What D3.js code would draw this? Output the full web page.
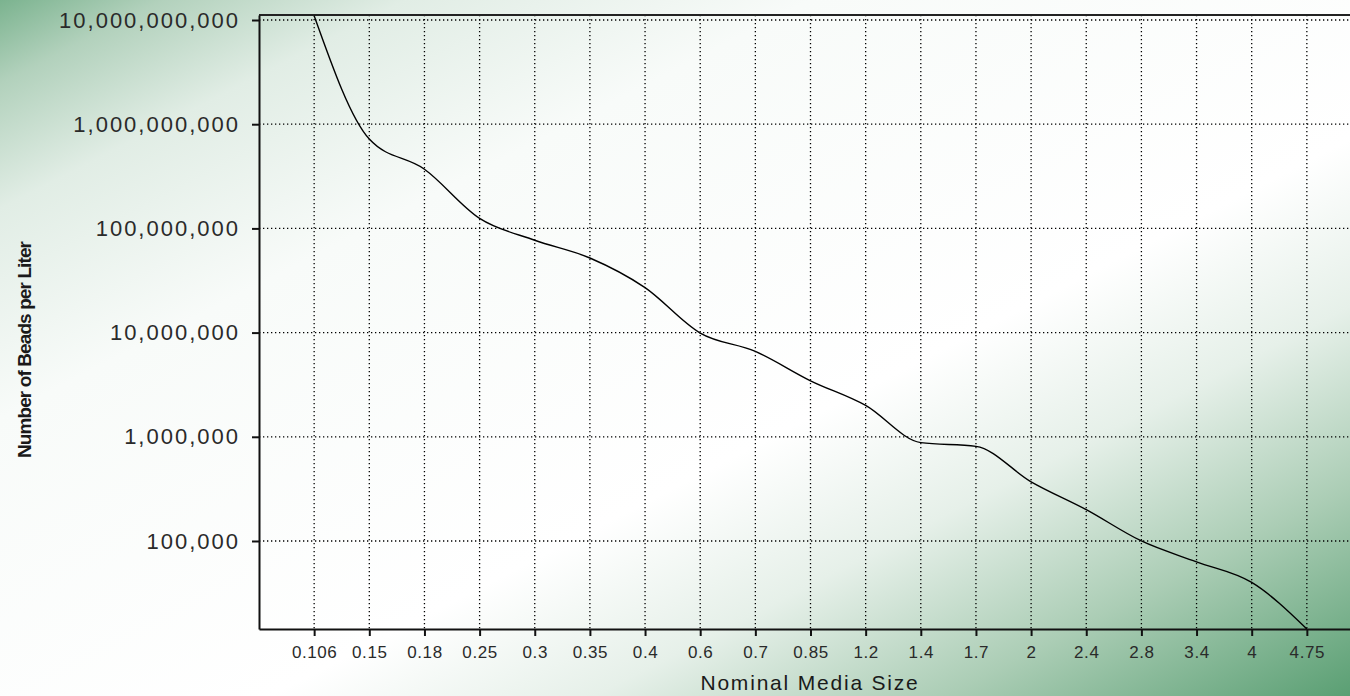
<!DOCTYPE html>
<html>
<head>
<meta charset="utf-8">
<script src="https://cdn.jsdelivr.net/npm/d3@7"></script>
<style>
    html, body { margin: 0; padding: 0; overflow: hidden; }
    #chart { width: 1350px; height: 696px; }
    .axisText { font-family: "Liberation Sans", Arial, sans-serif; fill: #1a1a1a; }
    .y-axis text { font-family: "Liberation Sans", Arial, sans-serif; font-size: 22px; letter-spacing: 2px; fill: #2a2a2a; }
    .x-axis text { font-family: "Liberation Sans", Arial, sans-serif; font-size: 17px; letter-spacing: 0.6px; fill: #2a2a2a; }
    .y-axis line, .x-axis line, .y-axis path, .x-axis path { stroke: #111; stroke-width: 2; }
    .grid { stroke: #000; stroke-width: 1.3; stroke-dasharray: 1.3 2.7; }
</style>
</head>
<body>
<div id="chart"></div>
<script>
// data
var mediaSizes = ["0.106", "0.15", "0.18", "0.25", "0.3", "0.35", "0.4", "0.6", "0.7", "0.85",
                  "1.2", "1.4", "1.7", "2", "2.4", "2.8", "3.4", "4", "4.75"];
var beadsPerLiter = [1.1e10, 7.2e8, 3.7e8, 1.25e8, 7.7e7, 5.2e7, 2.7e7, 9.9e6, 6.6e6, 3.45e6,
                     2.0e6, 8.8e5, 8.1e5, 3.7e5, 2.0e5, 1.0e5, 6.3e4, 4.0e4, 1.43e4];
var yTickValues = [1e5, 1e6, 1e7, 1e8, 1e9, 1e10];
var yRange = [14300, 1.117e10];

makePlot();

function makePlot() {

    var svgWidth = 1350;
    var svgHeight = 696;

    var plot = { left: 259, right: 1362, top: 15, bottom: 629 };

    var svg = d3.select("#chart")
        .append("svg")
        .attr("width", svgWidth)
        .attr("height", svgHeight);

    // background gradient: green corners, white band across the middle
    var defs = svg.append("defs");
    var grad = defs.append("linearGradient")
        .attr("id", "bg")
        .attr("gradientUnits", "userSpaceOnUse")
        .attr("x1", 0).attr("y1", 0)
        .attr("x2", 567).attr("y2", 1100);
    [[0, "#7bb38f"], [0.06, "#b2d1bc"], [0.15, "#e1ede5"], [0.3, "#f8fbf9"], [0.6, "#ffffff"],
     [0.72, "#e6f0e9"], [0.85, "#abcdb5"], [1, "#5a9f73"]].forEach(function(s) {
        grad.append("stop").attr("offset", s[0]).attr("stop-color", s[1]);
    });

    defs.append("clipPath").attr("id", "plotClip")
        .append("rect")
        .attr("x", plot.left).attr("y", plot.top)
        .attr("width", plot.right - plot.left).attr("height", plot.bottom - plot.top);

    svg.append("rect")
        .attr("width", svgWidth)
        .attr("height", svgHeight)
        .attr("fill", "url(#bg)");

    // scales
    var xScale = d3.scalePoint()
        .domain(mediaSizes)
        .range([plot.left, plot.right])
        .padding(1);

    var yScale = d3.scaleLog()
        .domain(yRange)
        .range([plot.bottom, plot.top]);

    // grid
    svg.append("g").selectAll("line")
        .data(mediaSizes)
        .enter()
        .append("line")
        .attr("class", "grid")
        .attr("x1", d => xScale(d)).attr("x2", d => xScale(d))
        .attr("y1", plot.top).attr("y2", plot.bottom);

    svg.append("g").selectAll("line")
        .data(yTickValues)
        .enter()
        .append("line")
        .attr("class", "grid")
        .attr("x1", plot.left).attr("x2", plot.right)
        .attr("y1", d => yScale(d)).attr("y2", d => yScale(d));

    // top border
    svg.append("line")
        .attr("x1", plot.left).attr("x2", plot.right)
        .attr("y1", plot.top).attr("y2", plot.top)
        .attr("stroke", "#222")
        .attr("stroke-width", 2);

    // axes
    var leftAxis = d3.axisLeft(yScale)
        .tickValues(yTickValues)
        .tickFormat(d3.format(","))
        .tickSize(7)
        .tickSizeOuter(0)
        .tickPadding(12);

    var bottomAxis = d3.axisBottom(xScale)
        .tickSize(7)
        .tickSizeOuter(0)
        .tickPadding(10);

    svg.append("g")
        .attr("class", "y-axis")
        .attr("transform", `translate(${plot.left}, 0)`)
        .call(leftAxis);

    svg.append("g")
        .attr("class", "x-axis")
        .attr("transform", `translate(0, ${plot.bottom})`)
        .call(bottomAxis);

    // line
    var line = d3.line()
        .x((d, i) => xScale(mediaSizes[i]))
        .y(d => yScale(d))
        .curve(d3.curveMonotoneX);

    svg.append("path")
        .datum(beadsPerLiter)
        .attr("clip-path", "url(#plotClip)")
        .attr("d", line)
        .attr("fill", "none")
        .attr("stroke", "#000")
        .attr("stroke-width", 1.4);

    // axes labels
    svg.append("text")
        .attr("class", "axisText")
        .attr("transform", "translate(31, 350) rotate(-90)")
        .attr("text-anchor", "middle")
        .style("font-size", "19px")
        .style("font-weight", "bold")
        .style("letter-spacing", "-0.9px")
        .text("Number of Beads per Liter");

    svg.append("text")
        .attr("class", "axisText")
        .attr("x", 810)
        .attr("y", 690)
        .attr("text-anchor", "middle")
        .style("font-size", "21px")
        .style("letter-spacing", "1.8px")
        .text("Nominal Media Size");
}
</script>
</body>
</html>
